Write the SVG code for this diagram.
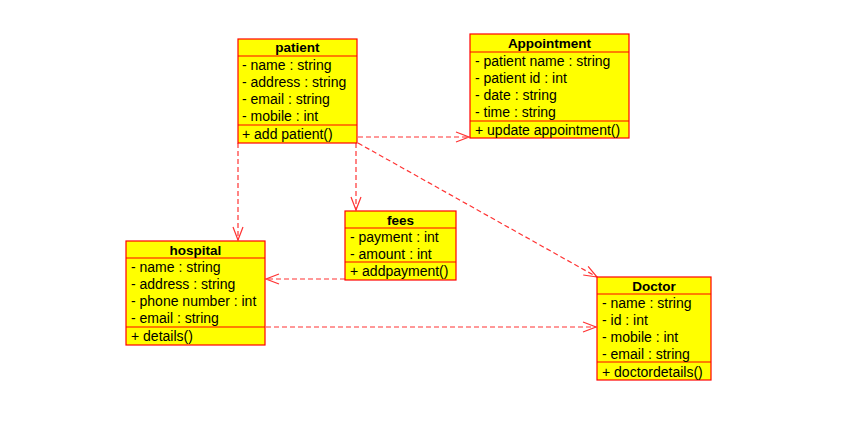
<svg xmlns="http://www.w3.org/2000/svg" width="854" height="442" viewBox="0 0 854 442">
<style>
.box{fill:#ffff00;stroke:#ff0000;stroke-width:1.2}
.sep{stroke:#ff0000;stroke-width:1.2}
.t{font-family:"Liberation Sans",Arial,sans-serif;font-size:14px;fill:#000}
.h{font-family:"Liberation Sans",Arial,sans-serif;font-size:13.5px;font-weight:bold;fill:#000;text-anchor:middle}
.c{fill:none;stroke:#ff3333;stroke-width:1.2;stroke-dasharray:5,3}
</style>
<defs>
<marker id="arr" markerWidth="16" markerHeight="12" refX="14" refY="6" orient="auto" markerUnits="userSpaceOnUse">
<path d="M1,1 L14,6 L1,11" fill="none" stroke="#ff3333" stroke-width="1.2"/>
</marker>
</defs>
<rect width="854" height="442" fill="#fff"/>
<g id="connectors">
<line class="c" x1="358" y1="137" x2="469" y2="137" marker-end="url(#arr)"/>
<line class="c" x1="238" y1="143" x2="238" y2="240" marker-end="url(#arr)"/>
<line class="c" x1="356" y1="143" x2="356" y2="210" marker-end="url(#arr)"/>
<line class="c" x1="358" y1="143" x2="597" y2="277" marker-end="url(#arr)"/>
<line class="c" x1="345" y1="279" x2="266" y2="279" marker-end="url(#arr)"/>
<line class="c" x1="266" y1="327" x2="596" y2="327" marker-end="url(#arr)"/>
</g>
<g id="patient">
<rect class="box" x="238" y="39" width="119" height="104"/>
<line class="sep" x1="238" y1="56" x2="357" y2="56"/>
<line class="sep" x1="238" y1="125" x2="357" y2="125"/>
<text class="h" x="297.5" y="52">patient</text>
<text class="t" x="242" y="70">- name : string</text>
<text class="t" x="242" y="87">- address : string</text>
<text class="t" x="242" y="104">- email : string</text>
<text class="t" x="242" y="121">- mobile : int</text>
<text class="t" x="242" y="139">+ add patient()</text>
</g>
<g id="appointment">
<rect class="box" x="470" y="34" width="159" height="104"/>
<line class="sep" x1="470" y1="52" x2="629" y2="52"/>
<line class="sep" x1="470" y1="121" x2="629" y2="121"/>
<text class="h" x="549.5" y="48">Appointment</text>
<text class="t" x="475" y="66">- patient name : string</text>
<text class="t" x="475" y="83">- patient id : int</text>
<text class="t" x="475" y="100">- date : string</text>
<text class="t" x="475" y="117">- time : string</text>
<text class="t" x="475" y="135">+ update appointment()</text>
</g>
<g id="hospital">
<rect class="box" x="126" y="241" width="139" height="104"/>
<line class="sep" x1="126" y1="258" x2="265" y2="258"/>
<line class="sep" x1="126" y1="327" x2="265" y2="327"/>
<text class="h" x="195.5" y="255">hospital</text>
<text class="t" x="131" y="272">- name : string</text>
<text class="t" x="131" y="289">- address : string</text>
<text class="t" x="131" y="306">- phone number : int</text>
<text class="t" x="131" y="323">- email : string</text>
<text class="t" x="131" y="341">+ details()</text>
</g>
<g id="fees">
<rect class="box" x="345" y="211" width="111" height="69"/>
<line class="sep" x1="345" y1="228" x2="456" y2="228"/>
<line class="sep" x1="345" y1="262" x2="456" y2="262"/>
<text class="h" x="400.5" y="225">fees</text>
<text class="t" x="350" y="242">- payment : int</text>
<text class="t" x="350" y="259">- amount : int</text>
<text class="t" x="350" y="276">+ addpayment()</text>
</g>
<g id="doctor">
<rect class="box" x="597" y="277" width="114" height="103"/>
<line class="sep" x1="597" y1="294" x2="711" y2="294"/>
<line class="sep" x1="597" y1="362" x2="711" y2="362"/>
<text class="h" x="654" y="291">Doctor</text>
<text class="t" x="602" y="308">- name : string</text>
<text class="t" x="602" y="325">- id : int</text>
<text class="t" x="602" y="342">- mobile : int</text>
<text class="t" x="602" y="359">- email : string</text>
<text class="t" x="602" y="377">+ doctordetails()</text>
</g>
</svg>
